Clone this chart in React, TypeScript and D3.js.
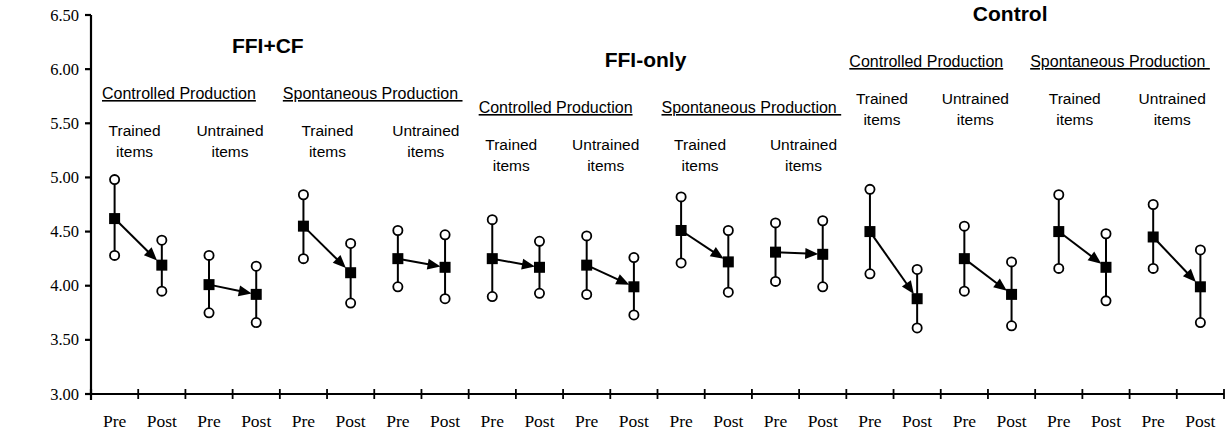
import React from "react";
import * as d3 from "d3";

// study groups, tasks, item types, test times
const groups = ["FFI+CF", "FFI-only", "Control"];
const tasks = ["Controlled Production", "Spontaneous Production "];
const itemTypes = [["Trained", "items"], ["Untrained", "items"]];
const times = ["Pre", "Post"];
const yTicks = [3.0, 3.5, 4.0, 4.5, 5.0, 5.5, 6.0, 6.5];

// one entry per group x task x item type (12 panels)
const meanPre = [4.62, 4.01, 4.55, 4.25, 4.25, 4.19, 4.51, 4.31, 4.5, 4.25, 4.5, 4.45];
const meanPost = [4.19, 3.92, 4.12, 4.17, 4.17, 3.99, 4.22, 4.29, 3.88, 3.92, 4.17, 3.99];
const upperPre = [4.98, 4.28, 4.84, 4.51, 4.61, 4.46, 4.82, 4.58, 4.89, 4.55, 4.84, 4.75];
const lowerPre = [4.28, 3.75, 4.25, 3.99, 3.9, 3.92, 4.21, 4.04, 4.11, 3.95, 4.16, 4.16];
const upperPost = [4.42, 4.18, 4.39, 4.47, 4.41, 4.26, 4.51, 4.6, 4.15, 4.22, 4.48, 4.33];
const lowerPost = [3.95, 3.66, 3.84, 3.88, 3.93, 3.73, 3.94, 3.99, 3.61, 3.63, 3.86, 3.66];

const W = 1230;
const H = 430;
const left = 91;
const right = 1224;
const top = 15;
const bottom = 394;

// label placement tweaks (px)
const titleY = [53, 67, 21];
const titleDx = [-12, -12, -25];
const taskDx = [11, 3, 10, 4, 3, -5];
const itemDx = [20, 21, 24, 28, 19, 19, 19, 28, 12, 11, 16, 19];

const sans = "'Liberation Sans', Arial, sans-serif";
const serif = "'Liberation Serif', 'Times New Roman', serif";

export default function App() {
  const cats = d3.range(groups.length * tasks.length * itemTypes.length * times.length);
  const x = d3.scaleBand<number>().domain(cats).range([left, right]).padding(0);
  const y = d3.scaleLinear().domain([3, 6.5]).range([bottom, top]);
  const bw = x.bandwidth();
  const cx = (i: number) => (x(i) as number) + bw / 2;

  const panels = d3.range(meanPre.length);
  const half = 5.5;

  const arrow = (p: number) => {
    const x0 = cx(2 * p);
    const x1 = cx(2 * p + 1);
    const y0 = y(meanPre[p]);
    const y1 = y(meanPost[p]);
    const dx = x1 - x0;
    const dy = y1 - y0;
    const len = Math.hypot(dx, dy);
    const ux = dx / len;
    const uy = dy / len;
    const t = Math.min(half / Math.abs(ux || 1e-6), half / Math.abs(uy || 1e-6)) - 1;
    const tipX = x1 - ux * t;
    const tipY = y1 - uy * t;
    const hl = 13;
    const hw = 5.5;
    const bx = tipX - ux * hl;
    const by = tipY - uy * hl;
    const head = [
      [tipX, tipY],
      [bx - uy * hw, by + ux * hw],
      [bx + uy * hw, by - ux * hw],
    ];
    return (
      <g key={"a" + p}>
        <line x1={x0} y1={y0} x2={bx + ux * 2} y2={by + uy * 2} stroke="#000" strokeWidth={2} />
        <path d={d3.line()(head as [number, number][]) + "Z"} fill="#000" />
      </g>
    );
  };

  const bar = (i: number, m: number, lo: number, hi: number) => (
    <g key={"b" + i}>
      <line x1={cx(i)} x2={cx(i)} y1={y(hi)} y2={y(lo)} stroke="#000" strokeWidth={2} />
      <circle cx={cx(i)} cy={y(hi)} r={4.6} fill="#fff" stroke="#000" strokeWidth={1.8} />
      <circle cx={cx(i)} cy={y(lo)} r={4.6} fill="#fff" stroke="#000" strokeWidth={1.8} />
      <rect x={cx(i) - half} y={y(m) - half} width={half * 2} height={half * 2} fill="#000" />
    </g>
  );

  return (
    <svg width={W} height={H} style={{ position: "absolute", left: 0, top: 0, background: "#fff" }}>
      {/* axes */}
      <line x1={left} x2={left} y1={top} y2={bottom} stroke="#000" strokeWidth={2.2} />
      <line x1={left} x2={right} y1={bottom} y2={bottom} stroke="#000" strokeWidth={2.2} />
      {yTicks.map((v) => (
        <g key={"yt" + v}>
          <line x1={left - 6} x2={left} y1={y(v)} y2={y(v)} stroke="#000" strokeWidth={2.2} />
          <text x={left - 12} y={y(v) + 5.5} textAnchor="end" fontFamily={serif} fontSize={16.5}>
            {v.toFixed(2)}
          </text>
        </g>
      ))}
      {cats.map((c) => (
        <g key={"xt" + c}>
          <line x1={(x(c) as number) + bw} x2={(x(c) as number) + bw} y1={bottom - 5} y2={bottom + 5} stroke="#000" strokeWidth={1.8} />
          <text x={cx(c)} y={427} textAnchor="middle" fontFamily={serif} fontSize={17.5}>
            {times[c % 2]}
          </text>
        </g>
      ))}
      <line x1={left} x2={left} y1={bottom - 5} y2={bottom + 6} stroke="#000" strokeWidth={2.2} />

      {/* titles */}
      {groups.map((g, gi) => {
        const mid = (x(gi * 8) as number) + bw * 4;
        return (
          <text key={g} x={mid + titleDx[gi]} y={titleY[gi]} textAnchor="middle" fontFamily={sans} fontWeight="bold" fontSize={21}>
            {g}
          </text>
        );
      })}
      {groups.map((g, gi) =>
        tasks.map((t, ti) => {
          const k = gi * 2 + ti;
          return (
            <text
              key={g + t}
              x={(x(k * 4) as number) + taskDx[k]}
              y={titleY[gi] + 46}
              fontFamily={sans}
              fontSize={16}
              textDecoration="underline"
              style={{ whiteSpace: "pre" }}
            >
              {t}
            </text>
          );
        })
      )}
      {panels.map((p) => {
        const gi = Math.floor(p / 4);
        const lab = itemTypes[p % 2];
        const tx = cx(2 * p) + itemDx[p];
        const by = titleY[gi] + 46 + 37;
        return (
          <text key={"it" + p} x={tx} y={by} textAnchor="middle" fontFamily={sans} fontSize={15.5}>
            <tspan x={tx}>{lab[0]}</tspan>
            <tspan x={tx} dy={21}>{lab[1]}</tspan>
          </text>
        );
      })}

      {/* marks */}
      {panels.map((p) => bar(2 * p, meanPre[p], lowerPre[p], upperPre[p]))}
      {panels.map((p) => bar(2 * p + 1, meanPost[p], lowerPost[p], upperPost[p]))}
      {panels.map((p) => arrow(p))}
    </svg>
  );
}
